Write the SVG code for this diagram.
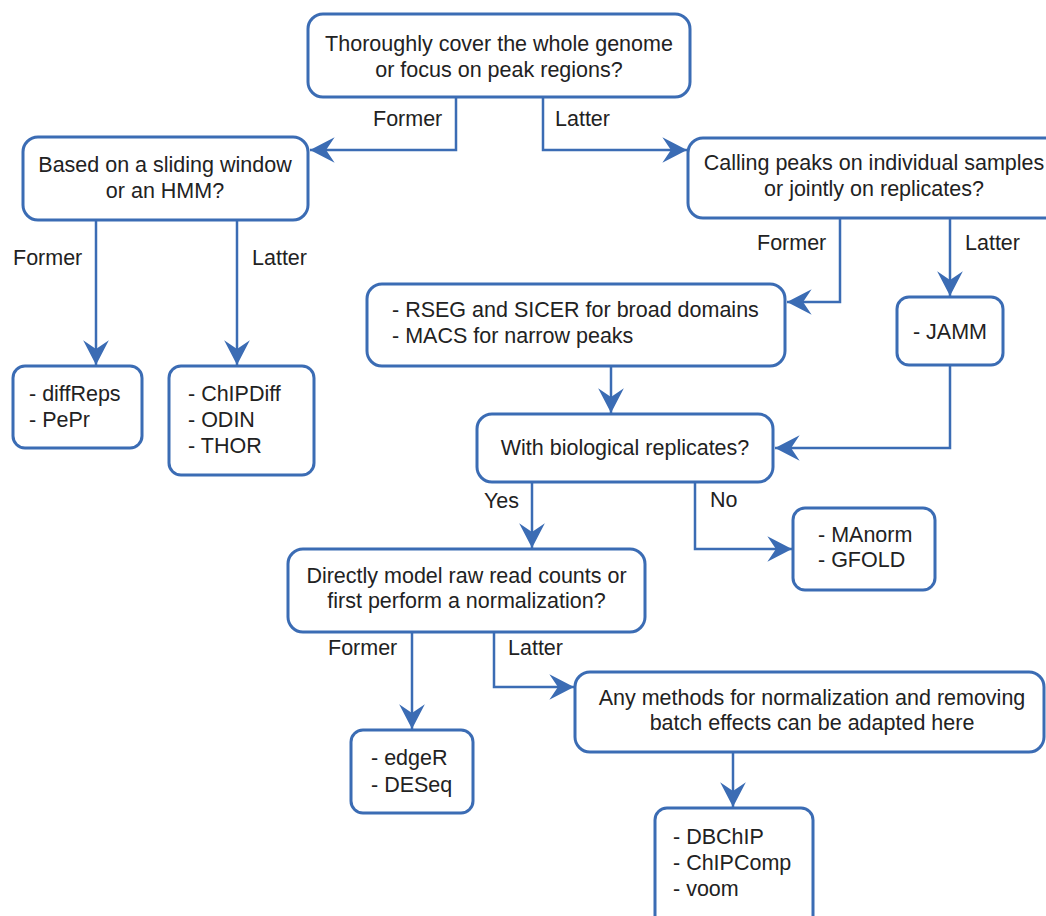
<svg xmlns="http://www.w3.org/2000/svg" width="1046" height="916" viewBox="0 0 1046 916">
<style>
.box{fill:#fff;stroke:#3b6cb4;stroke-width:3}
.ln{fill:none;stroke:#3b6cb4;stroke-width:2.5}
text{font-family:"Liberation Sans",Arial,sans-serif;font-size:21.5px;fill:#222}
.c{text-anchor:middle}
</style>
<defs>
<marker id="ah" markerUnits="userSpaceOnUse" markerWidth="30" markerHeight="30" viewBox="-25 -14 27 28" refX="0" refY="0" orient="auto">
<path d="M0,0 L-23,-12 L-15,0 L-23,12 Z" fill="#3b6cb4"/>
</marker>
</defs>
<rect width="1046" height="916" fill="#fff"/>
<g id="connectors">
<path class="ln" d="M456,97 V150 H310" marker-end="url(#ah)"/>
<path class="ln" d="M543,97 V150 H687" marker-end="url(#ah)"/>
<path class="ln" d="M96,220 V365" marker-end="url(#ah)"/>
<path class="ln" d="M237,220 V365" marker-end="url(#ah)"/>
<path class="ln" d="M840,218 V302 H787" marker-end="url(#ah)"/>
<path class="ln" d="M950,218 V296" marker-end="url(#ah)"/>
<path class="ln" d="M611,366 V413" marker-end="url(#ah)"/>
<path class="ln" d="M950,365 V448 H775" marker-end="url(#ah)"/>
<path class="ln" d="M532,482 V548" marker-end="url(#ah)"/>
<path class="ln" d="M695,482 V549 H792" marker-end="url(#ah)"/>
<path class="ln" d="M412,632 V729" marker-end="url(#ah)"/>
<path class="ln" d="M494,632 V687 H574" marker-end="url(#ah)"/>
<path class="ln" d="M733,752 V807" marker-end="url(#ah)"/>
<text x="373" y="126">Former</text>
<text x="555" y="126">Latter</text>
<text x="13" y="265">Former</text>
<text x="252" y="265">Latter</text>
<text x="757" y="250">Former</text>
<text x="965" y="250">Latter</text>
<text x="484" y="508">Yes</text>
<text x="710" y="507">No</text>
<text x="328" y="655">Former</text>
<text x="508" y="655">Latter</text>
</g>
<g id="n-top">
<rect class="box" x="308" y="14" width="382" height="83" rx="15"/>
<text class="c" x="499" y="51">Thoroughly cover the whole genome</text>
<text class="c" x="499" y="77">or focus on peak regions?</text>
</g>
<g id="n-window">
<rect class="box" x="23" y="137" width="285" height="83" rx="15"/>
<text class="c" x="165" y="172">Based on a sliding window</text>
<text class="c" x="165" y="198">or an HMM?</text>
</g>
<g id="n-calling">
<rect class="box" x="688" y="138" width="372" height="80" rx="15"/>
<text class="c" x="874" y="170">Calling peaks on individual samples</text>
<text class="c" x="874" y="196">or jointly on replicates?</text>
</g>
<g id="n-diffreps">
<rect class="box" x="13" y="366" width="129" height="82" rx="12"/>
<text x="29" y="401">- diffReps</text>
<text x="29" y="427">- PePr</text>
</g>
<g id="n-chipdiff">
<rect class="box" x="169" y="366" width="145" height="109" rx="12"/>
<text x="188" y="401">- ChIPDiff</text>
<text x="188" y="427">- ODIN</text>
<text x="188" y="453">- THOR</text>
</g>
<g id="n-rseg">
<rect class="box" x="367" y="284" width="418" height="82" rx="15"/>
<text x="392" y="317">- RSEG and SICER for broad domains</text>
<text x="392" y="343">- MACS for narrow peaks</text>
</g>
<g id="n-jamm">
<rect class="box" x="897" y="297" width="106" height="68" rx="12"/>
<text class="c" x="950" y="339">- JAMM</text>
</g>
<g id="n-bio">
<rect class="box" x="477" y="414" width="296" height="68" rx="15"/>
<text class="c" x="625" y="455">With biological replicates?</text>
</g>
<g id="n-manorm">
<rect class="box" x="793" y="508" width="142" height="82" rx="12"/>
<text x="818" y="542">- MAnorm</text>
<text x="818" y="567">- GFOLD</text>
</g>
<g id="n-directly">
<rect class="box" x="288" y="549" width="357" height="83" rx="15"/>
<text class="c" x="466.5" y="583">Directly model raw read counts or</text>
<text class="c" x="466.5" y="608">first perform a normalization?</text>
</g>
<g id="n-edger">
<rect class="box" x="351" y="730" width="122" height="83" rx="12"/>
<text x="371" y="765">- edgeR</text>
<text x="371" y="792">- DESeq</text>
</g>
<g id="n-any">
<rect class="box" x="575" y="672" width="469" height="80" rx="15"/>
<text class="c" x="812" y="705">Any methods for normalization and removing</text>
<text class="c" x="812" y="730">batch effects can be adapted here</text>
</g>
<g id="n-dbchip">
<rect class="box" x="655" y="808" width="158" height="125" rx="12"/>
<text x="673" y="844">- DBChIP</text>
<text x="673" y="870">- ChIPComp</text>
<text x="673" y="896">- voom</text>
</g>
</svg>
